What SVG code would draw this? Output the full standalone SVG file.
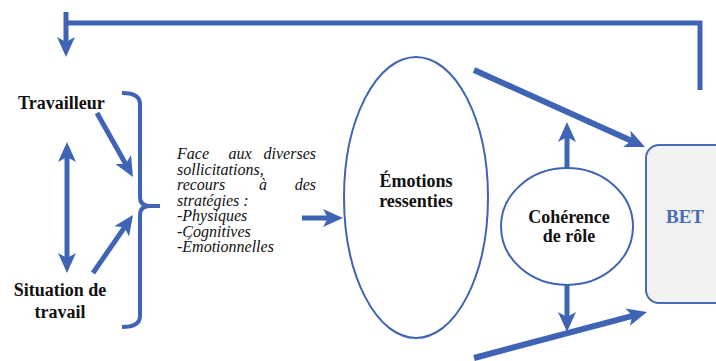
<svg xmlns="http://www.w3.org/2000/svg" width="716" height="361" viewBox="0 0 716 361">
<style>
.ln{stroke:#3f64b5;fill:none;stroke-linecap:butt}
.w5{stroke-width:5}
.w6{stroke-width:6}
.shape{stroke:#3f64b5;stroke-width:2;fill:#fff}
text{font-family:'Liberation Serif','Tinos','DejaVu Serif',serif}
.lbl{font-weight:bold;font-size:18px;fill:#111}
.it{font-style:italic;font-size:16px;fill:#111}
.bet{font-weight:bold;font-size:19px;fill:#4a6cb3}
</style>
<defs>
<marker id="ah" viewBox="0 0 20 18" refX="8" refY="9" markerWidth="20" markerHeight="18" markerUnits="userSpaceOnUse" orient="auto-start-reverse">
<path d="M0,0 L20,9 L0,18 L5,9 Z" fill="#3f64b5"/>
</marker>
</defs>
<rect width="716" height="361" fill="#fff"/>
<g id="connectors">
<path class="ln w5" d="M66,12 L66,45" marker-end="url(#ah)"/>
<path class="ln w5" d="M64,23 L700,23 L700,90"/>
<path class="ln w5" d="M97,113 L127.1,166.5" marker-end="url(#ah)"/>
<path class="ln w5" d="M67,154 L67,261" marker-start="url(#ah)" marker-end="url(#ah)"/>
<path class="ln w5" d="M93,273 L126.2,224.9" marker-end="url(#ah)"/>
<path class="ln w5" d="M302,218 L331,218" marker-end="url(#ah)"/>
<path class="ln w6" d="M474,70 L634.1,142.1" marker-end="url(#ah)"/>
<path class="ln w6" d="M474,358 L635.4,315.1" marker-end="url(#ah)"/>
<path class="ln w5" d="M567,168 L567,134" marker-end="url(#ah)"/>
<path class="ln w5" d="M567,285 L567,320" marker-end="url(#ah)"/>
<path class="ln" stroke-width="4" d="M122,93 Q140,93 140,104 L140,197 Q140,206 150,206 L160,206 M150,206 Q140,206 140,215 L140,316 Q140,327 122,327"/>
</g>
<g id="travailleur"><text class="lbl" x="18" y="109">Travailleur</text></g>
<g id="situation">
<text class="lbl" x="60" y="296" text-anchor="middle">Situation de</text>
<text class="lbl" x="60" y="318" text-anchor="middle">travail</text>
</g>
<g id="strategies">
<text class="it" x="177" y="159">Face</text>
<text class="it" x="240" y="159" text-anchor="middle">aux</text>
<text class="it" x="316" y="159" text-anchor="end">diverses</text>
<text class="it" x="177" y="174.5">sollicitations,</text>
<text class="it" x="177" y="190">recours</text>
<text class="it" x="263" y="190" text-anchor="middle">à</text>
<text class="it" x="316" y="190" text-anchor="end">des</text>
<text class="it" x="177" y="205.5">stratégies :</text>
<text class="it" x="177" y="221">-Physiques</text>
<text class="it" x="177" y="236.5">-Cognitives</text>
<text class="it" x="177" y="252">-Émotionnelles</text>
</g>
<g id="emotions">
<ellipse class="shape" cx="416" cy="197.5" rx="72" ry="140.5"/>
<text class="lbl" x="416" y="187" text-anchor="middle">Émotions</text>
<text class="lbl" x="416" y="207" text-anchor="middle">ressenties</text>
</g>
<g id="coherence">
<ellipse class="shape" cx="567" cy="226.5" rx="66" ry="58.5"/>
<text class="lbl" x="569" y="223" text-anchor="middle">Cohérence</text>
<text class="lbl" x="569" y="242" text-anchor="middle">de rôle</text>
</g>
<g id="bet">
<rect x="646" y="145" width="90" height="158" rx="13" fill="#f1f1f1" stroke="#4a6cb3" stroke-width="2"/>
<text class="bet" x="685" y="223" text-anchor="middle">BET</text>
</g>
</svg>
